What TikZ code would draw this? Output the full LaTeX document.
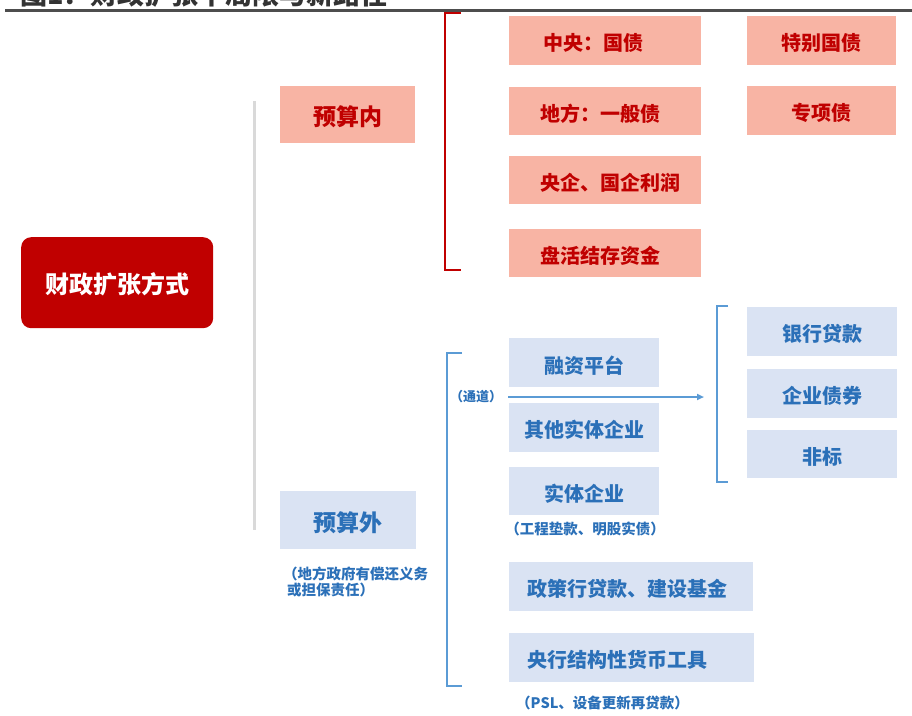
\documentclass[tikz,border=0pt]{standalone}
\usepackage{fontspec}
\setmainfont{Noto Sans CJK SC}
\usetikzlibrary{arrows.meta}
\definecolor{mainred}{HTML}{C00000}
\definecolor{salmon}{HTML}{F8B4A4}
\definecolor{bluefill}{HTML}{DAE3F3}
\definecolor{bluetext}{HTML}{2B70B8}
\definecolor{blueline}{HTML}{5B9BD5}
\definecolor{grayline}{HTML}{D9D9D9}
\definecolor{rulegray}{HTML}{4D4D4D}
\definecolor{titlegray}{HTML}{333333}
\tikzset{
  fs/.style={font=\bfseries\fontsize{#1}{#1}\selectfont},
  redbox/.style={fill=salmon, draw=none, inner sep=0pt, anchor=north west},
  bluebox/.style={fill=bluefill, draw=none, inner sep=0pt, anchor=north west},
  redtxt/.style={text=mainred, inner sep=0pt, yshift=-2.5pt, fs=#1},
  redtxt/.default=20,
  bluetxt/.style={text=bluetext, inner sep=0pt, yshift=-2.5pt, fs=#1},
  bluetxt/.default=20,
  subtxt/.style={text=bluetext, inner sep=0pt},
  redbracket/.style={draw=mainred, line width=2pt},
  bluebracket/.style={draw=blueline, line width=2pt},
}
\begin{document}
\begin{tikzpicture}[x=1pt,y=-1pt]
\useasboundingbox (0,0) rectangle (912,715);
% title (clipped at top)
\node[anchor=base west, inner sep=0pt, text=titlegray, fs=27] (title) at (20,4.5) {图1：财政扩张中局限与新路径};
\draw[draw=rulegray, line width=3pt] (5,10.5) -- (912,10.5);

% root
\node[fill=mainred, rounded corners=10pt, minimum width=192pt, minimum height=91pt, anchor=north west] (root) at (21,237) {};
\node[text=white, inner sep=0pt, yshift=-2pt, fs=24] (roott) at (root.center) {财政扩张方式};
% gray separator
\draw[draw=grayline, line width=3pt] (254.5,101) -- (254.5,530);

% budget inside
\node[redbox, minimum width=135pt, minimum height=57pt] (yin) at (280,86) {};
\node[redtxt=23] (yint) at (yin.center) {预算内};
\draw[redbracket] (461,13) -- (445,13) -- (445,270) -- (461,270);

\node[redbox, minimum width=192pt, minimum height=49pt] (r1) at (509,16) {};
\node[redtxt, anchor=west] (r1t) at ([xshift=34pt]r1.west) {中央：国债};
\node[redbox, minimum width=192pt, minimum height=48pt] (r2) at (509,87) {};
\node[redtxt, anchor=west] (r2t) at ([xshift=31pt]r2.west) {地方：一般债};
\node[redbox, minimum width=192pt, minimum height=48pt] (r3) at (509,156) {};
\node[redtxt, anchor=west] (r3t) at ([xshift=31pt]r3.west) {央企、国企利润};
\node[redbox, minimum width=192pt, minimum height=48pt] (r4) at (509,229) {};
\node[redtxt, anchor=west] (r4t) at ([xshift=31pt]r4.west) {盘活结存资金};

\node[redbox, minimum width=149pt, minimum height=49pt] (s1) at (747,16) {};
\node[redtxt] (s1t) at (s1.center) {特别国债};
\node[redbox, minimum width=149pt, minimum height=49pt] (s2) at (747,86) {};
\node[redtxt] (s2t) at (s2.center) {专项债};

% budget outside
\node[bluebox, minimum width=136pt, minimum height=58pt] (yout) at (280,491) {};
\node[bluetxt=23] (youtt) at (yout.center) {预算外};
\node[subtxt, anchor=north west, align=left, font=\bfseries\fontsize{14.5}{16}\selectfont] (youtsub) at (283,567) {（地方政府有偿还义务\\\hspace*{4pt}或担保责任）};

\draw[bluebracket] (462,353) -- (447,353) -- (447,686) -- (462,686);
\node[subtxt, fs=13] (tongdao) at (476,397) {（通道）};

\node[bluebox, minimum width=150pt, minimum height=49pt] (b1) at (509,338) {};
\node[bluetxt] (b1t) at (b1.center) {融资平台};
\node[bluebox, minimum width=150pt, minimum height=49pt] (b2) at (509,403) {};
\node[bluetxt] (b2t) at (b2.center) {其他实体企业};
\node[bluebox, minimum width=150pt, minimum height=48pt] (b3) at (509,467) {};
\node[bluetxt] (b3t) at (b3.center) {实体企业};
\node[subtxt, fs=14.5] (b3sub) at (585,529) {（工程垫款、明股实债）};

\coordinate (arrS) at (508,397);
\coordinate (arrE) at (704,397);
\draw[draw=blueline, line width=1.8pt, -{Triangle[length=7pt,width=6pt]}] (arrS) -- (arrE);

\draw[bluebracket] (728,306) -- (717,306) -- (717,482) -- (728,482);
\node[bluebox, minimum width=150pt, minimum height=49pt] (c1) at (747,307) {};
\node[bluetxt] (c1t) at (c1.center) {银行贷款};
\node[bluebox, minimum width=150pt, minimum height=49pt] (c2) at (747,369) {};
\node[bluetxt] (c2t) at (c2.center) {企业债券};
\node[bluebox, minimum width=150pt, minimum height=48pt] (c3) at (747,430) {};
\node[bluetxt] (c3t) at (c3.center) {非标};

\node[bluebox, minimum width=244pt, minimum height=49pt] (d1) at (509,562) {};
\node[bluetxt, anchor=west] (d1t) at ([xshift=18pt]d1.west) {政策行贷款、建设基金};
\node[bluebox, minimum width=245pt, minimum height=49pt] (d2) at (509,633) {};
\node[bluetxt, anchor=west] (d2t) at ([xshift=18pt]d2.west) {央行结构性货币工具};
\node[subtxt, anchor=west, fs=14.5] (d2sub) at (516,703) {（PSL、设备更新再贷款）};
\end{tikzpicture}
\end{document}
